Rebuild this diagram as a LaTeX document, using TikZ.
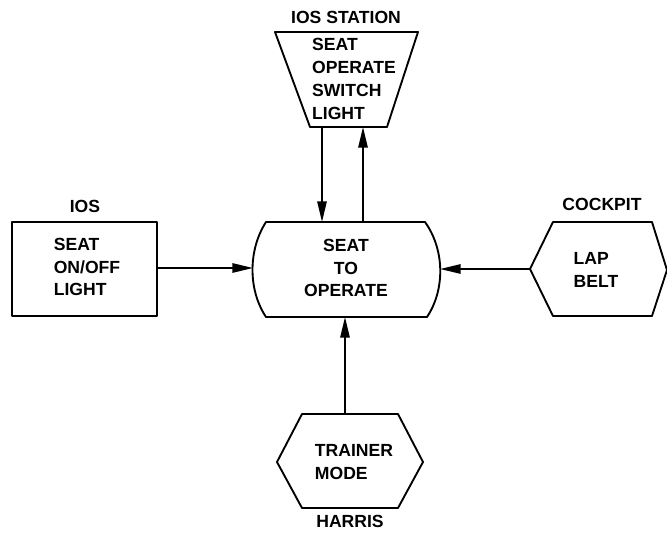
\documentclass[tikz,border=0pt]{standalone}
\usepackage{fontspec}
\setmainfont{Liberation Sans}
\usetikzlibrary{arrows.meta}

\tikzset{
  txt/.style={align=left,inner sep=0pt,font=\fontsize{15}{19.5}\selectfont\bfseries},
  txtc/.style={txt,align=center},
  lbl/.style={inner sep=0pt,font=\fontsize{15}{19.5}\selectfont\bfseries}
}

\begin{document}
\begin{tikzpicture}[x=0.03cm,y=-0.03cm,>={Triangle[length=0.62cm,width=0.28cm]},line width=1.6pt,line join=round]
  \useasboundingbox (0,0) rectangle (667,536);

  % ================= IOS station (trapezoid) =================
  \draw (275,32) -- (418,32) -- (387,127) -- (310,127) -- cycle;
  \node[lbl] (stationlbl) at (346,17) {IOS STATION};
  \node[txt] (station) at (354,79) {SEAT\\OPERATE\\SWITCH\\LIGHT};
  \coordinate (st-l) at (322,127);
  \coordinate (st-r) at (363,127);

  % ================= seat to operate =================
  \draw (266,222) -- (425,222) .. controls (445,250) and (445,290) .. (427,317)
        -- (266,317) .. controls (248,290) and (248,250) .. cycle;
  \node[txtc] (seatop) at (346,268) {SEAT\\TO\\OPERATE};
  \coordinate (op-w) at (253,268);
  \coordinate (op-e) at (440,269);
  \coordinate (op-s) at (345,317);
  \coordinate (op-nl) at (322,222);
  \coordinate (op-nr) at (363,222);

  % ================= IOS (box) =================
  \draw (12,222) rectangle (157,316);
  \node[lbl] (ioslbl) at (85,206) {IOS};
  \node[txt] (iosbox) at (87,267) {SEAT\\ON/OFF\\LIGHT};
  \coordinate (ios-e) at (157,268);

  % ================= cockpit (hexagon) =================
  \draw (530,269) -- (553,222) -- (652,222) -- (667,270) -- (652,316) -- (553,316) -- cycle;
  \node[lbl] (cockpitlbl) at (602,204) {COCKPIT};
  \node[txt] (lapbelt) at (596,270) {LAP\\BELT};
  \coordinate (lap-w) at (530,269);

  % ================= Harris (hexagon) =================
  \draw (277,462) -- (302,414) -- (398,414) -- (423,462) -- (398,508) -- (302,508) -- cycle;
  \node[txt] (trainer) at (354,462) {TRAINER\\MODE};
  \node[lbl] (harrislbl) at (350,521) {HARRIS};
  \coordinate (tr-n) at (345,414);

  % ================= connectors =================
  \draw[->] (st-l) -- (op-nl);
  \draw[->] (op-nr) -- (st-r);
  \draw[->] (ios-e) -- (op-w);
  \draw[->] (lap-w) -- (op-e);
  \draw[->] (tr-n) -- (op-s);
\end{tikzpicture}
\end{document}
